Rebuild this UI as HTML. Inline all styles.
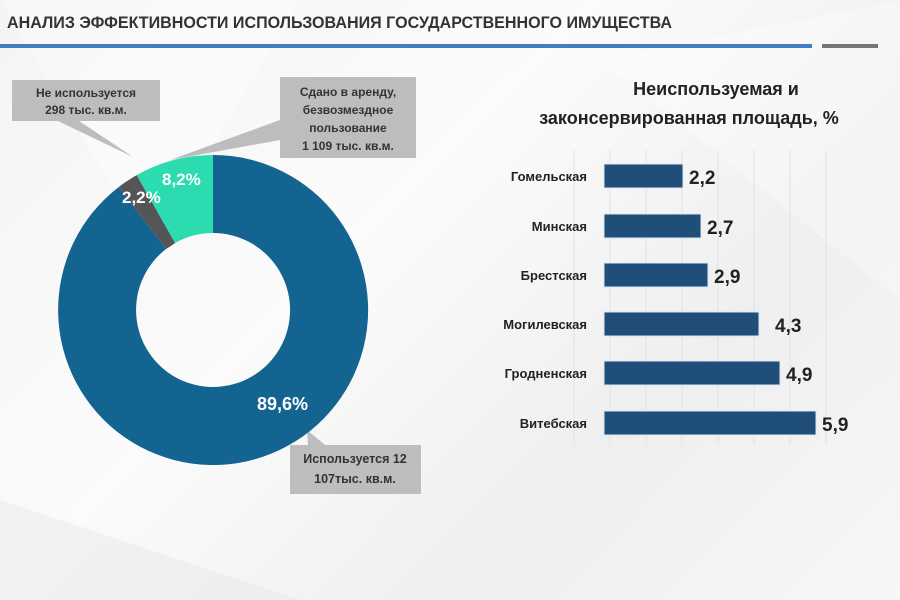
<!DOCTYPE html>
<html><head><meta charset="utf-8"><style>
body{margin:0;width:900px;height:600px;overflow:hidden;font-family:"Liberation Sans","DejaVu Sans",sans-serif;background:linear-gradient(135deg,#f4f4f4,#fbfbfb 40%,#efefef 70%,#f7f7f7);}
</style></head><body>
<svg width="900" height="600" xmlns="http://www.w3.org/2000/svg" style="position:absolute;left:0;top:0">
<polygon points="0,0 300,0 150,250" fill="#ffffff" opacity="0.35"/>
<polygon points="600,60 900,0 900,300" fill="#ffffff" opacity="0.3"/>
<polygon points="0,500 300,600 0,600" fill="#e8e8e8" opacity="0.5"/>
<text x="7" y="28" font-size="17" font-weight="bold" fill="#333" font-family="Liberation Sans Narrow, Liberation Sans, sans-serif" textLength="665" lengthAdjust="spacingAndGlyphs">АНАЛИЗ ЭФФЕКТИВНОСТИ ИСПОЛЬЗОВАНИЯ ГОСУДАРСТВЕННОГО ИМУЩЕСТВА</text>
<rect x="0" y="44" width="812" height="4" fill="#3f7ec0"/>
<rect x="822" y="44" width="56" height="4" fill="#777"/>
<!-- callouts -->
<polygon points="12,80 160,80 160,121 79,121 133,157 58,121 12,121" fill="#bdbdbd"/>
<text x="86" y="97" font-size="12" font-weight="bold" fill="#333" text-anchor="middle">Не используется</text>
<text x="86" y="114" font-size="12" font-weight="bold" fill="#333" text-anchor="middle">298 тыс. кв.м.</text>
<polygon points="280,77 416,77 416,158 280,158 280,140 170,160 280,120" fill="#bdbdbd"/>
<text x="348" y="96" font-size="12" font-weight="bold" fill="#333" text-anchor="middle">Сдано в аренду,</text>
<text x="348" y="114" font-size="12" font-weight="bold" fill="#333" text-anchor="middle">безвозмездное</text>
<text x="348" y="132" font-size="12" font-weight="bold" fill="#333" text-anchor="middle">пользование</text>
<text x="348" y="150" font-size="12" font-weight="bold" fill="#333" text-anchor="middle">1 109 тыс. кв.м.</text>
<polygon points="290,445 308,445 307,430 325,445 421,445 421,494 290,494" fill="#bdbdbd"/>
<text x="355" y="463" font-size="12.5" font-weight="bold" fill="#333" text-anchor="middle">Используется 12</text>
<text x="355" y="483" font-size="12.5" font-weight="bold" fill="#333" text-anchor="middle">107тыс. кв.м.</text>
<!-- bar chart -->
<text x="716" y="95" font-size="18" font-weight="bold" fill="#222" text-anchor="middle">Неиспользуемая и</text>
<text x="689" y="124" font-size="18" font-weight="bold" fill="#222" text-anchor="middle">законсервированная площадь, %</text>
<g stroke="#dde3ea" stroke-width="1">
<line x1="574" y1="150" x2="574" y2="445"/><line x1="610" y1="150" x2="610" y2="445"/><line x1="646" y1="150" x2="646" y2="445"/><line x1="682" y1="150" x2="682" y2="445"/><line x1="718" y1="150" x2="718" y2="445"/><line x1="754" y1="150" x2="754" y2="445"/><line x1="790" y1="150" x2="790" y2="445"/><line x1="826" y1="150" x2="826" y2="445"/>
</g>
<g fill="#1f4e79" stroke="#dbe6f2" stroke-width="1">
<rect x="604" y="164" width="79" height="24"/>
<rect x="604" y="214" width="97" height="24"/>
<rect x="604" y="263" width="104" height="24"/>
<rect x="604" y="312" width="155" height="24"/>
<rect x="604" y="361" width="176" height="24"/>
<rect x="604" y="411" width="212" height="24"/>
</g>
<g font-size="13" font-weight="bold" fill="#222" text-anchor="end">
<text x="587" y="181">Гомельская</text><text x="587" y="231">Минская</text><text x="587" y="280">Брестская</text><text x="587" y="329">Могилевская</text><text x="587" y="378">Гродненская</text><text x="587" y="428">Витебская</text>
</g>
<g font-size="19" font-weight="bold" fill="#222">
<text x="689" y="184">2,2</text><text x="707" y="234">2,7</text><text x="714" y="283">2,9</text><text x="775" y="332">4,3</text><text x="786" y="381">4,9</text><text x="822" y="431">5,9</text>
</g>
<!-- donut -->
<path d="M213,155 A155,155 0 1 1 118.8,187 L166.2,248.9 A77,77 0 1 0 213,233 Z" fill="#136490"/>
<path d="M118.8,187 A155,155 0 0 1 136.7,175.1 L175.1,243 A77,77 0 0 1 166.2,248.9 Z" fill="#555"/>
<path d="M136.7,175.1 A155,155 0 0 1 213,155 L213,233 A77,77 0 0 0 175.1,243 Z" fill="#2cdcb0"/>
<text x="162" y="185" font-size="17" font-weight="bold" fill="#fff">8,2%</text>
<text x="122" y="203" font-size="17" font-weight="bold" fill="#fff">2,2%</text>
<text x="257" y="410" font-size="18" font-weight="bold" fill="#fff">89,6%</text>
</svg>
</body></html>
